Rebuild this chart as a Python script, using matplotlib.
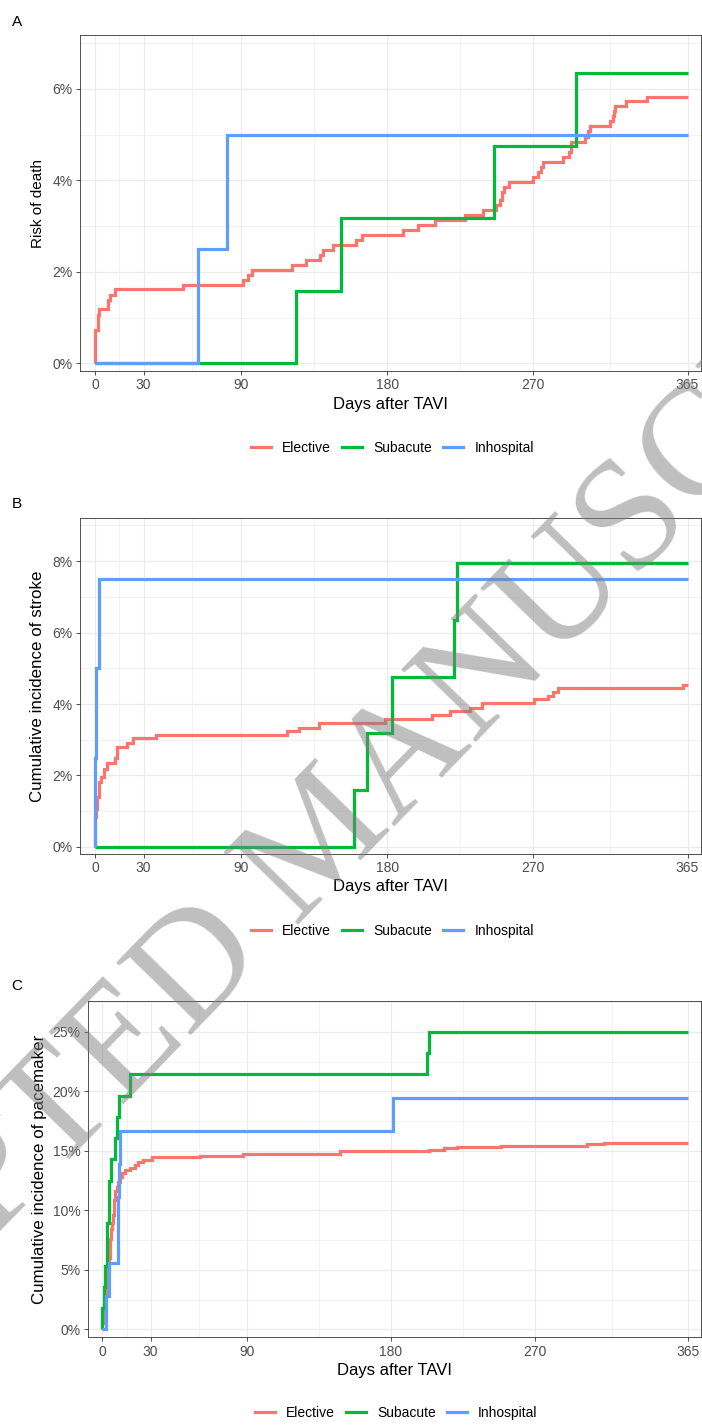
import matplotlib
matplotlib.use('Agg')
import matplotlib.pyplot as plt
from matplotlib.lines import Line2D

plt.rcParams['font.family'] = ['Liberation Sans', 'DejaVu Sans']

W, H, DPI = 702, 1426, 100

groups = ['Elective', 'Subacute', 'Inhospital']
colors = ['#F8766D', '#00BA38', '#619CFF']

x_ticks = [0, 30, 90, 180, 270, 365]
x_minor = [15, 60, 135, 225, 317.5]
x_label = 'Days after TAVI'

# ---------------- Panel A: Risk of death (%) ----------------
a_elective_t = [0, 0, 0.3, 2.0, 2.8, 8.2, 9.2, 12.3, 54, 91.3, 94.4, 96.5, 121.5, 129.7,
                138.6, 140.2, 146.7, 161, 164.2, 190, 199.2, 209.4, 227.9, 239.2, 247.3,
                249.4, 250.8, 251.9, 255, 270, 273, 274.5, 275.7, 288.5, 292, 293, 293.5,
                301.8, 303.8, 304.9, 317.2, 319.2, 319.8, 320.2, 327, 340.3, 365]
a_elective_v = [0, 0.33, 0.73, 1.06, 1.18, 1.39, 1.49, 1.62, 1.71, 1.82, 1.93, 2.04, 2.15, 2.26,
                2.37, 2.48, 2.59, 2.70, 2.81, 2.92, 3.03, 3.14, 3.25, 3.36, 3.46,
                3.57, 3.75, 3.86, 3.97, 4.08, 4.19, 4.30, 4.41, 4.52, 4.63, 4.74, 4.85,
                4.96, 5.07, 5.18, 5.29, 5.40, 5.51, 5.62, 5.73, 5.82, 5.82]
a_subacute_t = [0, 123.6, 151.8, 245.9, 296.6, 365]
a_subacute_v = [0, 1.587, 3.175, 4.762, 6.349, 6.349]
a_inhosp_t = [0, 63.6, 81.1, 365]
a_inhosp_v = [0, 2.5, 5.0, 5.0]

# ---------------- Panel B: Cumulative incidence of stroke (%) ----------------
b_elective_t = [0, 0, 0.8, 1.2, 2.5, 3.7, 5.5, 7.6, 12.3, 13.4, 19.5, 23.6, 37.5, 118,
                125.6, 137.9, 178.6, 207.4, 218.6, 231, 238.2, 270.6, 278.8, 282.3,
                285.4, 362.3, 365]
b_elective_v = [0, 0.84, 1.07, 1.40, 1.82, 1.96, 2.17, 2.35, 2.49, 2.80, 2.92, 3.04, 3.13, 3.25,
                3.34, 3.46, 3.57, 3.69, 3.80, 3.89, 4.02, 4.13, 4.22, 4.34,
                4.44, 4.53, 4.53]
b_subacute_t = [0, 159.5, 167.7, 183.1, 221.3, 222.8, 365]
b_subacute_v = [0, 1.587, 3.175, 4.762, 6.349, 7.937, 7.937]
b_inhosp_t = [0, 0, 0.6, 2.65, 365]
b_inhosp_v = [0, 2.5, 5.0, 7.5, 7.5]

# ---------------- Panel C: Cumulative incidence of pacemaker (%) ----------------
c_elective_t = [0, 0, 0.5, 1.0, 1.5, 2.0, 2.7, 3.3, 3.8, 4.4, 4.8, 5.3, 5.8, 6.4, 6.9, 7.4,
                7.9, 9.0, 10.0, 11.0, 12.5, 14.2, 17.0, 20.4, 22.3, 25.5, 30.8, 60.9,
                87.9, 148.2, 203.7, 213, 221, 248.6, 302, 312.8, 365]
c_elective_v = [0, 0.5, 1.2, 2.0, 2.8, 3.4, 4.2, 5.1, 6.0, 7.0, 7.6, 8.4, 8.9, 9.6, 10.3, 10.9,
                11.6, 12.0, 12.4, 12.8, 13.1, 13.4, 13.55, 13.8, 14.1, 14.25, 14.45, 14.6,
                14.75, 14.95, 15.1, 15.24, 15.32, 15.45, 15.6, 15.7, 15.7]
c_subacute_t = [0, 0, 0.8, 1.9, 3.1, 4.0, 5.2, 7.9, 9.0, 10.6, 17.3, 202.7, 203.5, 365]
c_subacute_v = [0, 1.79, 3.57, 5.36, 8.93, 12.5, 14.29, 16.07, 17.86, 19.64, 21.43, 23.21, 25.0, 25.0]
c_inhosp_t = [0, 2.3, 3.8, 9.4, 10.4, 11.0, 181.4, 365]
c_inhosp_v = [0, 2.78, 5.56, 11.11, 13.89, 16.67, 19.44, 19.44]

panels = [
    dict(letter='A', ylabel='Risk of death', ylab_size=11,
         series=[(a_elective_t, a_elective_v), (a_subacute_t, a_subacute_v), (a_inhosp_t, a_inhosp_v)],
         yticks=[0, 2, 4, 6], yminor=[1, 3, 5, 7], ylim=(-0.168, 7.18),
         box=(80, 35, 700.5, 371), ylab_x=38, letter_xy=(11.5, 26), leg_y=448),
    dict(letter='B', ylabel='Cumulative incidence of stroke', ylab_size=12.2,
         series=[(b_elective_t, b_elective_v), (b_subacute_t, b_subacute_v), (b_inhosp_t, b_inhosp_v)],
         yticks=[0, 2, 4, 6, 8], yminor=[1, 3, 5, 7, 9], ylim=(-0.2, 9.2),
         box=(80, 518.3, 700.5, 854), ylab_x=38, letter_xy=(11.5, 508), leg_y=931),
    dict(letter='C', ylabel='Cumulative incidence of pacemaker', ylab_size=12.2,
         series=[(c_elective_t, c_elective_v), (c_subacute_t, c_subacute_v), (c_inhosp_t, c_inhosp_v)],
         yticks=[0, 5, 10, 15, 20, 25], yminor=[2.5, 7.5, 12.5, 17.5, 22.5, 27.5], ylim=(-0.67, 27.6),
         box=(87.7, 1001, 700.5, 1337.3), ylab_x=39.5, letter_xy=(11.5, 990), leg_y=1413),
]

fig = plt.figure(figsize=(W / DPI, H / DPI), dpi=DPI)
fig.patch.set_facecolor('white')

for p in panels:
    l, t, r, b = p['box']
    ax = fig.add_axes([l / W, 1 - b / H, (r - l) / W, (b - t) / H])
    for (ts, vs), c, g in zip(p['series'], colors, groups):
        ax.plot(ts, vs, drawstyle='steps-post', color=c, lw=2.3, label=g,
                solid_joinstyle='miter', solid_capstyle='butt')
    ax.set_xlim(-9.2, 373.0)
    ax.set_ylim(*p['ylim'])
    ax.set_xticks(x_ticks)
    ax.set_xticks(x_minor, minor=True)
    ax.set_yticks(p['yticks'])
    ax.set_yticks(p['yminor'], minor=True)
    ax.set_yticklabels([f'{v:g}%' for v in p['yticks']])
    ax.grid(True, which='major', color='#EBEBEB', lw=0.8, zorder=0)
    ax.grid(True, which='minor', color='#EBEBEB', lw=0.45, zorder=0)
    ax.set_axisbelow(True)
    ax.tick_params(which='major', direction='out', length=2.6, width=0.6, color='#333333',
                   labelcolor='#4D4D4D', labelsize=10, pad=2.6)
    ax.tick_params(which='minor', length=0)
    for s in ax.spines.values():
        s.set_color('#333333')
        s.set_linewidth(0.6)
    ax.set_xlabel(x_label, fontsize=12, color='black', va='center')
    ax.xaxis.set_label_coords(0.5, -(33) / (b - t))
    ax.set_ylabel(p['ylabel'], fontsize=p['ylab_size'], color='black', va='center')
    ax.yaxis.set_label_coords((p['ylab_x'] - l) / (r - l), 0.5)
    lx, ly = p['letter_xy']
    fig.text(lx / W, 1 - ly / H, p['letter'], fontsize=11, ha='left', va='baseline', color='black')
    handles = [Line2D([0], [0], color=c, lw=2.3) for c in colors]
    fig.legend(handles, groups, loc='center', ncol=3, frameon=False, fontsize=10,
               bbox_to_anchor=(((l + r) / 2 + 2) / W, 1 - p['leg_y'] / H),
               handlelength=1.45, handletextpad=0.8, columnspacing=0.8,
               labelcolor='black')

# watermark overlay
fig.text(325 / W, 1 - 843 / H, 'ACCEPTED MANUSCRIPT', rotation=45.8, fontsize=114,
         family='Liberation Serif', color='#808080', alpha=0.5, ha='center', va='center',
         rotation_mode='anchor', zorder=100)

fig.savefig('out.png', dpi=DPI)
